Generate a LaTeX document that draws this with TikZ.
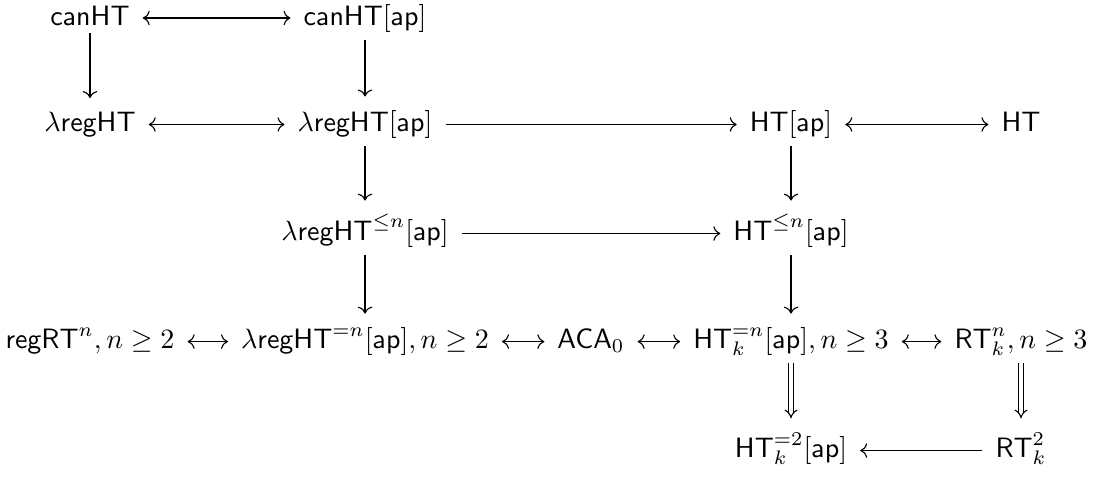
\documentclass[tikz,border=0pt]{standalone}
\usetikzlibrary{arrows.meta}
\begin{document}
\begin{tikzpicture}[x=1pt,y=1pt,
  cell/.style={anchor=base, inner xsep=4.5pt, inner ysep=2.6pt},
  arr/.style={line width=0.4pt, -{Computer Modern Rightarrow}},
  both/.style={line width=0.4pt, {Computer Modern Rightarrow}-{Computer Modern Rightarrow}},
  dbl/.style={line width=0.4pt, double, double distance=1.2pt, -{Implies}},
  vert/.style={shorten >=2.2pt}]
\useasboundingbox (0,0) rectangle (392.86,-171.43);
% columns: 32.14, 130.36, 211.07, 282.5, 364.64
% row 1
\node[cell] (canht)   at (32.14,-8.93) {$\mathsf{canHT}$};
\node[cell] (canhtap) at (130.36,-8.93) {$\mathsf{canHT}[\mathsf{ap}]$};
% row 2
\node[cell] (lreg)    at (32.14,-46.96) {$\lambda\mathsf{regHT}$};
\node[cell] (lregap)  at (130.36,-46.96) {$\lambda\mathsf{regHT}[\mathsf{ap}]$};
\node[cell] (htap)    at (282.5,-46.96) {$\mathsf{HT}[\mathsf{ap}]$};
\node[cell] (ht)      at (364.64,-46.96) {$\mathsf{HT}$};
% row 3
\node[cell] (lregle)  at (130.36,-85.9) {$\lambda\mathsf{regHT}^{\leq n}[\mathsf{ap}]$};
\node[cell] (htle)    at (282.5,-85.9) {$\mathsf{HT}^{\leq n}[\mathsf{ap}]$};
% row 4
\node[cell] (regrt)   at (32.14,-124.5) {$\mathsf{regRT}^n, n\geq 2$};
\node[cell] (lregeq)  at (130.36,-124.5) {$\lambda\mathsf{regHT}^{=n}[\mathsf{ap}], n\geq 2$};
\node[cell] (aca)     at (211.07,-124.5) {$\mathsf{ACA}_0$};
\node[cell] (hteq)    at (282.5,-124.5) {$\mathsf{HT}^{=n}_k[\mathsf{ap}], n\geq 3$};
\node[cell] (rtn)     at (364.64,-124.5) {$\mathsf{RT}^n_k, n\geq 3$};
% row 5
\node[cell] (httwo)   at (282.5,-163.4) {$\mathsf{HT}^{=2}_k[\mathsf{ap}]$};
\node[cell] (rttwo)   at (364.64,-163.4) {$\mathsf{RT}^2_k$};

% horizontal connectors, drawn at the math axis
\draw[both] ([yshift=2.5pt]canht.base east) -- ([yshift=2.5pt]canhtap.base west);
\draw[both] ([yshift=2.5pt]lreg.base east) -- ([yshift=2.5pt]lregap.base west);
\draw[arr]  ([yshift=2.5pt]lregap.base east) -- ([yshift=2.5pt]htap.base west);
\draw[both] ([yshift=2.5pt]htap.base east) -- ([yshift=2.5pt]ht.base west);
\draw[arr]  ([yshift=2.5pt]lregle.base east) -- ([yshift=2.5pt]htle.base west);
\draw[both] ([yshift=2.5pt]regrt.base east) -- ([yshift=2.5pt]lregeq.base west);
\draw[both] ([yshift=2.5pt]lregeq.base east) -- ([yshift=2.5pt]aca.base west);
\draw[both] ([yshift=2.5pt]aca.base east) -- ([yshift=2.5pt]hteq.base west);
\draw[both] ([yshift=2.5pt]hteq.base east) -- ([yshift=2.5pt]rtn.base west);
\draw[arr]  ([yshift=2.5pt]rttwo.base west) -- ([yshift=2.5pt]httwo.base east);

% vertical connectors
\draw[arr,vert] (canht) -- (lreg);
\draw[arr,vert] (canhtap) -- (lregap);
\draw[arr,vert] (lregap) -- (lregle);
\draw[arr,vert] (htap) -- (htle);
\draw[arr,vert] (lregle) -- (lregeq);
\draw[arr,vert] (htle) -- (hteq);
\draw[dbl,vert] (hteq) -- (httwo);
\draw[dbl,vert] (rtn) -- (rttwo);
\end{tikzpicture}
\end{document}
